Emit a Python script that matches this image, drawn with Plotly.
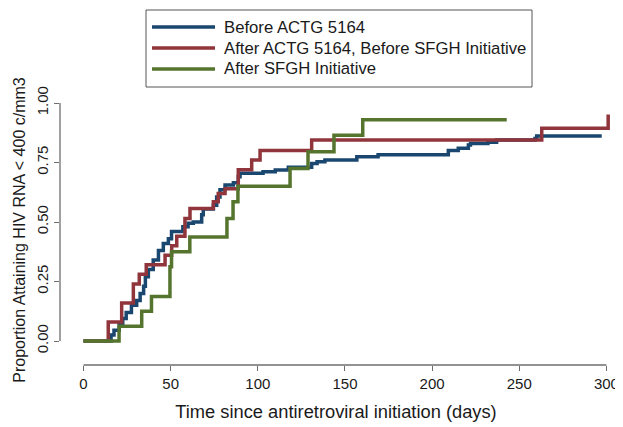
import plotly.graph_objects as go

# ---- data ----
blue_name = "Before ACTG 5164"
blue_days = [0, 15.8, 17.5, 20.5, 22.5, 24.5, 27.5, 30.5, 32.5, 34.5, 35.5, 37.2, 40, 43, 45.8,
             48.7, 50.5, 57, 60, 63, 67.8, 68.7, 74.5, 76.4, 78.3, 81.2, 86, 88.8, 89.8, 103,
             110, 117.5, 130.9, 134, 138.5, 156.8, 169, 209.3, 215, 220.8, 222, 232, 237,
             259, 260, 297.3]
blue_vals = [0, 0.025, 0.045, 0.07, 0.095, 0.12, 0.15, 0.17, 0.20, 0.23, 0.27, 0.30, 0.34, 0.38,
             0.41, 0.43, 0.46, 0.48, 0.495, 0.50, 0.53, 0.555, 0.57, 0.605, 0.635, 0.655, 0.665,
             0.69, 0.705, 0.711, 0.718, 0.73, 0.746, 0.753, 0.76, 0.774, 0.783, 0.80, 0.81,
             0.824, 0.83, 0.835, 0.845, 0.851, 0.861, 0.861]

red_name = "After ACTG 5164, Before SFGH Initiative"
red_days = [0, 14.2, 21.9, 28.6, 32, 36, 46.8, 50.6, 53.5, 58.2, 61.1, 74.5, 77.3, 81.2, 88.8,
            96.5, 101.3, 130.9, 262.9, 301]
red_vals = [0, 0.08, 0.16, 0.24, 0.28, 0.32, 0.36, 0.40, 0.44, 0.515, 0.557, 0.585, 0.62, 0.64,
            0.72, 0.76, 0.80, 0.845, 0.894, 0.952]

green_name = "After SFGH Initiative"
green_days = [0, 20.4, 33.4, 39, 49.6, 50.5, 61, 82.3, 85.8, 88.6, 118.5, 128.8, 143.7, 160.2, 242.8]
green_vals = [0, 0.0625, 0.125, 0.1875, 0.3125, 0.375, 0.4375, 0.515, 0.585, 0.65, 0.725, 0.795,
              0.865, 0.93, 0.93]

x_ticks = [0, 50, 100, 150, 200, 250, 300]
y_ticks = [0, 0.25, 0.5, 0.75, 1.0]
y_tick_labels = ["0.00", "0.25", "0.50", "0.75", "1.00"]

x_title = "Time since antiretroviral initiation (days)"
y_title = "Proportion Attaining HIV RNA < 400 c/mm3"

# ---- styling / layout geometry ----
# the page body has an 8px margin, so the figure is sized to the visible area
OFF = 8
W, H = 623 - OFF, 427 - OFF
ML, MR, MT, MB = 60 - OFF, 11, 95 - OFF, 62
FONT = "Liberation Sans, Arial, sans-serif"
AX = "#6e6e6e"
TXT = "#1a1a1a"
LW = 3.5
series = [(blue_name, blue_days, blue_vals, "#1a476f"),
          (red_name, red_days, red_vals, "#90353b"),
          (green_name, green_days, green_vals, "#55752f")]


def px_x(p):  # reference pixel -> paper x
    return (p - OFF - ML) / (W - ML - MR)


def px_y(p):  # reference pixel -> paper y
    return (H - MB - (p - OFF)) / (H - MT - MB)


fig = go.Figure()
for name, xs, ys, c in series:
    fig.add_trace(go.Scatter(x=xs, y=ys, mode="lines", name=name, showlegend=False,
                             line=dict(color=c, width=LW, shape="hv")))

fig.update_layout(
    width=W, height=H,
    margin=dict(l=ML, r=MR, t=MT, b=MB),
    paper_bgcolor="white", plot_bgcolor="white",
    font=dict(family=FONT, size=15, color=TXT),
    showlegend=False,
    xaxis=dict(range=[-13.48, 303.2], tickvals=x_ticks, ticks="outside", ticklen=5,
               tickwidth=1.3, tickcolor=AX, showline=False, showgrid=False, zeroline=False,
               automargin=False, tickfont=dict(size=15),
               title=dict(text=x_title, font=dict(size=18.3), standoff=14)),
    yaxis=dict(range=[-0.1008, 1.0336], tickvals=y_ticks, ticktext=y_tick_labels,
               ticks="outside", ticklen=5, tickwidth=1.3, tickcolor=AX, tickangle=-90,
               showline=False, showgrid=False, zeroline=False, automargin=False,
               tickfont=dict(size=15),
               title=dict(text=y_title, font=dict(size=16), standoff=4)),
)

# axis lines spanning only the tick range (Stata style)
fig.add_shape(type="line", xref="x", yref="paper", x0=min(x_ticks), x1=max(x_ticks), y0=0, y1=0,
              line=dict(color=AX, width=1.3))
fig.add_shape(type="line", xref="paper", yref="y", x0=0, x1=0, y0=min(y_ticks), y1=max(y_ticks),
              line=dict(color=AX, width=1.3))

# legend box (Stata style, long key lines)
fig.add_shape(type="rect", xref="paper", yref="paper",
              x0=px_x(146), x1=px_x(532), y0=px_y(87), y1=px_y(10),
              line=dict(color="#555555", width=1), fillcolor="white", layer="above")
row_y = [27, 48, 69]
for (name, _, _, c), ry in zip(series, row_y):
    fig.add_shape(type="line", xref="paper", yref="paper",
                  x0=px_x(152), x1=px_x(215), y0=px_y(ry), y1=px_y(ry),
                  line=dict(color=c, width=LW), layer="above")
    fig.add_annotation(xref="paper", yref="paper", x=px_x(222), y=px_y(ry),
                       xanchor="left", yanchor="middle", text=name, showarrow=False,
                       font=dict(size=16.7, family=FONT, color=TXT))

fig.write_html("out.html")
